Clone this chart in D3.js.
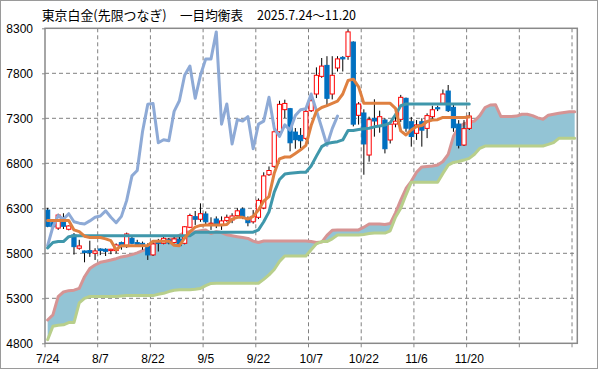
<!DOCTYPE html>
<html><head><meta charset="utf-8">
<script src="https://cdn.jsdelivr.net/npm/d3@7"></script>
<style>body{margin:0;background:#fff}svg{display:block}</style>
</head><body><svg id="c" width="599" height="370"></svg>
<script>
const titleParts = ["東京白金(先限つなぎ)", "一目均衡表", "2025.7.24～11.20"];
const tickLabels = ["7/24","8/7","8/22","9/5","9/22","10/7","10/22","11/6","11/20","",""];
const yTicks = [4800,5300,5800,6300,6800,7300,7800,8300];
const open  = [6280,6140,6080,6160,6067,6004,5856,5826,5830,5800,5848,5845,5830,5830,5919,5874,5967,5919,5911,5874,5782,5930,5911,5950,5920,5955,5911,6089,6207,6178,6237,6126,6181,6115,6163,6170,6218,6292,6189,6150,6200,6303,6673,6766,7150,7396,7407,7147,7110,7077,7384,7570,7766,7888,7570,7859,7977,7988,8147,7333,7359,6892,7300,7215,7281,7059,7236,7288,7522,7262,7133,7262,7188,7318,7418,7466,7603,7422,7236,7003,7188];
const high  = [6305,6155,6240,6245,6110,6025,5950,5830,5940,5856,5855,5855,5850,5910,5930,6030,5990,5950,5930,5911,5930,5960,5990,5970,5980,5990,6100,6240,6270,6355,6265,6200,6210,6210,6230,6245,6300,6310,6210,6280,6410,6700,6765,7250,7495,7507,7415,7192,7192,7410,7580,7866,7970,7990,7990,7990,7990,8290,8155,7480,7400,7318,7511,7385,7300,7250,7320,7560,7530,7315,7280,7300,7355,7440,7440,7620,7670,7450,7280,7280,7370];
const low   = [6090,6075,6060,6070,6055,5785,5840,5700,5760,5726,5780,5770,5790,5800,5840,5860,5900,5870,5840,5726,5770,5820,5900,5900,5910,5880,5900,6080,6115,6150,6115,6060,6080,6060,6150,6135,6190,6180,6100,6130,6180,6290,6660,6750,7140,7303,6933,6962,6970,7060,7370,7525,7750,7430,7510,7820,7820,7950,7210,7230,6673,6818,7096,7140,6910,7020,7200,7260,7150,6985,7060,6985,7080,7280,7380,7450,7370,7150,6965,6992,7170];
const close = [6100,6095,6225,6100,6104,5874,5882,5808,5808,5826,5830,5822,5845,5893,5874,6015,5911,5893,5885,5782,5904,5910,5967,5915,5960,5885,6095,6220,6178,6240,6150,6135,6125,6160,6200,6215,6272,6200,6140,6210,6388,6660,6720,7150,7455,7465,7028,7062,7051,7377,7495,7778,7880,7522,7778,7960,7960,8260,7235,7459,7015,7285,7270,7318,6962,7235,7268,7533,7190,7098,7227,7168,7330,7395,7405,7570,7385,7195,7000,7185,7325];
const tenkan = [6165,6165,6165,6165,6165,6060,6040,5990,5975,5975,5975,5960,5940,5840,5885,5885,5885,5885,5885,5885,5935,5935,5935,5935,5890,5885,5970,6040,6090,6110,6115,6115,6115,6115,6120,6180,6200,6200,6180,6210,6280,6380,6430,6690,6850,6870,6870,6910,6950,7000,7220,7380,7420,7440,7465,7490,7570,7720,7735,7650,7466,7466,7466,7466,7466,7466,7410,7160,7115,7170,7210,7220,7265,7280,7285,7310,7310,7310,7310,7310,7315];
const kijun = [5860,5920,5930,5930,5985,5995,5995,5995,5995,5995,5995,5995,5995,5995,5995,5995,5995,5995,5995,5995,5995,5995,5995,5995,5995,5995,5995,5995,6035,6035,6035,6035,6035,6035,6035,6035,6035,6035,6035,6035,6060,6150,6260,6480,6620,6680,6690,6695,6700,6700,6770,6880,6985,7020,7030,7040,7060,7165,7165,7175,7185,7190,7205,7215,7225,7250,7340,7440,7459,7459,7459,7459,7459,7459,7459,7459,7459,7459,7459,7459,7459];
const spanA = [5059,5115,5319,5370,5385,5390,5410,5540,5630,5670,5700,5712,5725,5740,5760,5770,5785,5805,5830,5850,5890,5930,5945,5955,5965,6000,6030,6040,6040,6050,6060,6020,6040,6030,6005,5995,5985,5975,5965,5935,5920,5937,5937,5937,5937,5937,5937,5937,5937,5937,5930,5920,5925,6000,6055,6060,6060,6060,6060,6060,6090,6125,6125,6125,6120,6130,6250,6390,6520,6600,6700,6760,6765,6770,6780,6820,6900,7100,7200,7240,7255,7270,7330,7420,7448,7450,7320,7320,7320,7325,7345,7345,7330,7305,7290,7335,7345,7355,7365,7373,7373];
const spanB = [4840,4990,5000,5005,5030,5030,5250,5300,5320,5320,5320,5320,5320,5320,5325,5330,5330,5330,5330,5330,5330,5345,5355,5375,5390,5395,5395,5395,5400,5410,5440,5465,5467,5467,5467,5467,5467,5467,5467,5467,5467,5510,5560,5620,5710,5770,5770,5770,5770,5770,5840,5905,5930,5930,5960,6004,6004,6004,6004,6004,6010,6020,6025,6025,6025,6050,6200,6300,6450,6590,6590,6590,6590,6590,6590,6688,6780,6810,6820,6836,6855,6900,6966,6992,6992,6992,6992,6992,6992,6992,6992,6992,6992,6992,6992,7010,7030,7077,7077,7077,7077];
const chikouShift = 25;
const nCats = 101;

const svg = d3.select("#c");
const L = 45, R = 577.3, T = 28.3, B = 343.3;
const x = d3.scaleBand().domain(d3.range(nCats)).range([L, R]).padding(0);
const bw = x.bandwidth();
const cx = i => x(i) + bw / 2;
const y = d3.scaleLinear().domain([4800, 8300]).range([B, T]);
const gridCol = "#808080", axisCol = "#898989";

svg.append("rect").attr("x",0.5).attr("y",0.5).attr("width",597).attr("height",368)
  .attr("fill","#fff").attr("stroke","#9a9a9a").attr("stroke-width",1);

const g = svg.append("g");
g.selectAll("line.hy").data(yTicks.slice(1,-1)).join("line")
  .attr("x1",L).attr("x2",R).attr("y1",d=>y(d)).attr("y2",d=>y(d))
  .attr("stroke",gridCol).attr("stroke-width",1).attr("stroke-dasharray","4,3");
const xTickIdx = d3.range(10, nCats, 10);
g.selectAll("line.vx").data(xTickIdx).join("line")
  .attr("x1",d=>x(d)).attr("x2",d=>x(d)).attr("y1",T).attr("y2",B)
  .attr("stroke",gridCol).attr("stroke-width",1).attr("stroke-dasharray","4,3");

const idx = d3.range(nCats);
svg.append("path").datum(idx)
  .attr("d", d3.area().x(i=>cx(i)).y0(i=>y(spanB[i])).y1(i=>y(spanA[i])))
  .attr("fill","#93c4d5");
function drawLine(arr, n, col, offset=0){
  svg.append("path").datum(d3.range(n))
    .attr("d", d3.line().x(i=>cx(i)).y(i=>y(arr[i+offset])))
    .attr("fill","none").attr("stroke",col).attr("stroke-width",3)
    .attr("stroke-linejoin","round").attr("stroke-linecap","round");
}
drawLine(spanA, nCats, "#d69494");
drawLine(spanB, nCats, "#b8cf8b");

const cg = svg.append("g");
const nC = close.length;
const cw = 4.2;
d3.range(nC).forEach(i=>{
  const up = close[i] >= open[i];
  cg.append("line").attr("x1",cx(i)).attr("x2",cx(i))
    .attr("y1",y(high[i])).attr("y2",y(low[i])).attr("stroke","#000").attr("stroke-width",1);
  const top = y(Math.max(open[i],close[i])), bot = y(Math.min(open[i],close[i]));
  cg.append("rect").attr("x",cx(i)-cw/2).attr("y",top).attr("width",cw)
    .attr("height",Math.max(1,bot-top))
    .attr("fill", up ? "#fff" : "#0070c0")
    .attr("stroke", up ? "#ff0000" : "#0070c0").attr("stroke-width",1);
});

drawLine(close, nC - chikouShift, "#8eaad6", chikouShift);
drawLine(kijun, nC, "#3f97ab");
drawLine(tenkan, nC, "#df8040");

svg.append("rect").attr("x",L).attr("y",T).attr("width",R-L).attr("height",B-T)
  .attr("fill","none").attr("stroke",axisCol).attr("stroke-width",1.5);

const ya = svg.append("g").attr("transform",`translate(${L},0)`)
  .call(d3.axisLeft(y).tickValues(yTicks).tickSize(3).tickPadding(9).tickFormat(d3.format("d")));
ya.select(".domain").remove();
ya.selectAll(".tick line").attr("stroke",axisCol);
ya.selectAll("text").attr("font-family","Liberation Sans, Arial, sans-serif").attr("font-size",12).attr("fill","#000");

const xa = svg.append("g").attr("transform",`translate(0,${B})`);
xa.selectAll("line").data(d3.range(0, nCats, 10)).join("line")
  .attr("x1",d=>x(d)).attr("x2",d=>x(d)).attr("y1",0).attr("y2",4)
  .attr("stroke",axisCol).attr("stroke-width",1);
xa.selectAll("text").data(d3.range(0, nCats, 10)).join("text")
  .attr("x",d=>cx(d)).attr("y",20).attr("text-anchor","middle")
  .attr("font-family","Liberation Sans, Arial, sans-serif").attr("font-size",12).attr("fill","#000")
  .text((d,k)=>tickLabels[k]);

const titleX = [41.7, 180, 257], titleW = [125, 63, 99];
svg.selectAll("text.title").data(titleParts).join("text").attr("class","title")
  .attr("x",(d,k)=>titleX[k]).attr("y",20)
  .attr("textLength",(d,k)=>titleW[k]).attr("lengthAdjust","spacingAndGlyphs")
  .attr("font-family","Noto Sans CJK JP, sans-serif").attr("font-size",13).attr("fill","#000")
  .text(d=>d);
</script></body></html>
